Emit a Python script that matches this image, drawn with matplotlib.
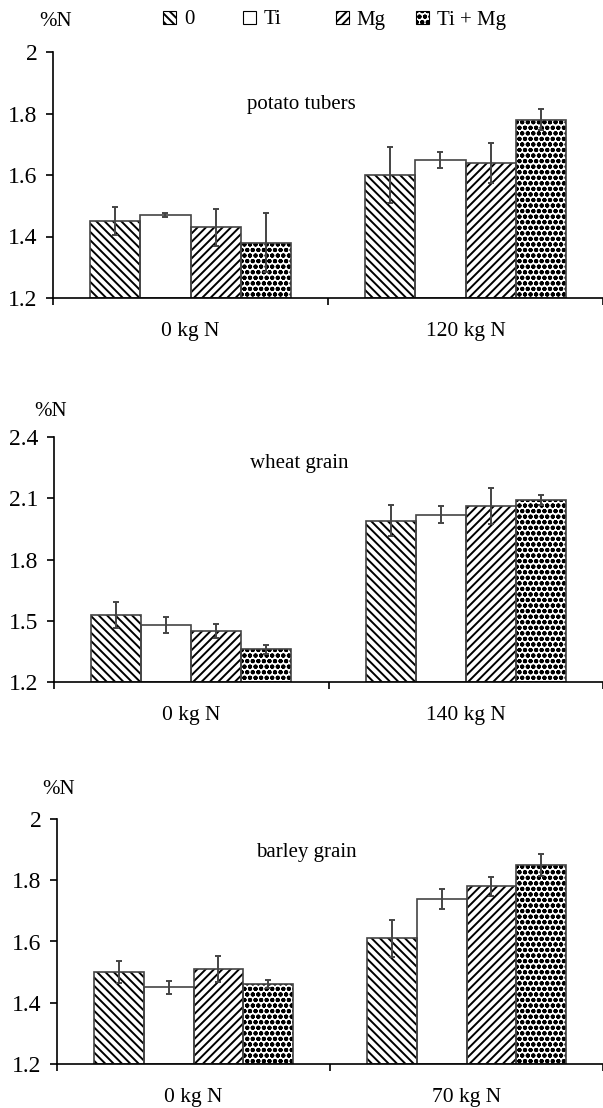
import matplotlib
matplotlib.use("Agg")
import matplotlib.pyplot as plt
import numpy as np
from matplotlib.patches import Patch
from matplotlib.ticker import FuncFormatter

plt.rcParams['font.family'] = ['Liberation Serif', 'DejaVu Serif']
plt.rcParams['hatch.linewidth'] = 1.4

# treatments (legend)
treatments = ['0', 'Ti', 'Mg', 'Ti + Mg']
hatches = ['\\\\\\\\', '', '////', 'ooo']

# potato tubers
potato_groups = ['0 kg N', '120 kg N']
potato_0 = [1.45, 1.60]
potato_ti = [1.47, 1.65]
potato_mg = [1.43, 1.64]
potato_timg = [1.38, 1.78]
potato_err_0 = [0.045, 0.09]
potato_err_ti = [0.007, 0.026]
potato_err_mg = [0.06, 0.065]
potato_err_timg = [0.097, 0.035]

# wheat grain
wheat_groups = ['0 kg N', '140 kg N']
wheat_0 = [1.53, 1.99]
wheat_ti = [1.48, 2.02]
wheat_mg = [1.45, 2.06]
wheat_timg = [1.36, 2.09]
wheat_err_0 = [0.064, 0.075]
wheat_err_ti = [0.04, 0.042]
wheat_err_mg = [0.033, 0.088]
wheat_err_timg = [0.023, 0.024]

# barley grain
barley_groups = ['0 kg N', '70 kg N']
barley_0 = [1.50, 1.61]
barley_ti = [1.45, 1.74]
barley_mg = [1.51, 1.78]
barley_timg = [1.46, 1.85]
barley_err_0 = [0.037, 0.06]
barley_err_ti = [0.022, 0.033]
barley_err_mg = [0.042, 0.032]
barley_err_timg = [0.013, 0.036]

W, H = 603, 1108
fig = plt.figure(figsize=(W / 100, H / 100), dpi=100)


def panel(rect, groups, means, errs, yticks, title, title_xy, ylab_xy):
    ax = fig.add_axes(rect)
    x = np.arange(len(groups))
    w = 0.182
    for i, (m, e, h) in enumerate(zip(means, errs, hatches)):
        pos = x + (i - 1.5) * w
        ax.bar(pos, np.array(m) - yticks[0], w, bottom=yticks[0], color='white',
               edgecolor='black', hatch=h, linewidth=0, zorder=2)
        ax.bar(pos, np.array(m) - yticks[0], w, bottom=yticks[0], fill=False,
               edgecolor='#444444', linewidth=1.2, zorder=2.5)
        ax.errorbar(pos, m, yerr=e, fmt='none', ecolor='#444444', elinewidth=1.4,
                    capsize=2.5, capthick=1.4, zorder=3)
    ax.set_xlim(-0.5, 1.5)
    ax.set_ylim(yticks[0], yticks[-1])
    ax.set_yticks(yticks)
    ax.yaxis.set_major_formatter(FuncFormatter(lambda v, p: '%g' % round(v, 2)))
    ax.set_xticks([-0.5, 0.5, 1.5])
    ax.set_xticklabels([])
    ax.set_xticks(x, minor=True)
    ax.set_xticklabels(groups, minor=True, fontsize=15.5)
    ax.tick_params(axis='x', which='minor', length=0, pad=17)
    ax.tick_params(axis='x', which='major', direction='out', length=5, width=1.2)
    ax.tick_params(axis='y', direction='out', length=5, width=1.2, labelsize=17, pad=6)
    for s in ['top', 'right']:
        ax.spines[s].set_visible(False)
    for s in ['left', 'bottom']:
        ax.spines[s].set_linewidth(1.2)
    ax.text(title_xy[0], title_xy[1], title, transform=ax.transAxes,
            ha='center', va='center', fontsize=15)
    fig.text(ylab_xy[0] / W, 1 - ylab_xy[1] / H, '%N', ha='center', va='center',
             fontsize=15)
    return ax


panel([53 / W, 1 - 298 / H, 1 - 53 / W, 246 / H], potato_groups,
      [potato_0, potato_ti, potato_mg, potato_timg],
      [potato_err_0, potato_err_ti, potato_err_mg, potato_err_timg],
      [1.2, 1.4, 1.6, 1.8, 2.0], 'potato tubers', (0.451, 0.785), (56, 22))

panel([54 / W, 1 - 682 / H, 1 - 54 / W, 245 / H], wheat_groups,
      [wheat_0, wheat_ti, wheat_mg, wheat_timg],
      [wheat_err_0, wheat_err_ti, wheat_err_mg, wheat_err_timg],
      [1.2, 1.5, 1.8, 2.1, 2.4], 'wheat grain', (0.446, 0.89), (51, 412))

panel([57 / W, 1 - 1064 / H, 1 - 57 / W, 245 / H], barley_groups,
      [barley_0, barley_ti, barley_mg, barley_timg],
      [barley_err_0, barley_err_ti, barley_err_mg, barley_err_timg],
      [1.2, 1.4, 1.6, 1.8, 2.0], 'barley grain', (0.456, 0.865), (59, 790))

# legend entries placed along the top
legend_x = [163, 243, 336, 416]
for lab, h, lx in zip(treatments, hatches, legend_x):
    handle = Patch(facecolor='white', edgecolor='black', hatch=h, linewidth=0.8)
    fig.legend([handle], [lab], loc='center left', bbox_to_anchor=(lx / W, 1 - 20 / H),
               frameon=False, fontsize=15, handlelength=0.6, handleheight=0.6,
               handletextpad=0.4, borderpad=0, borderaxespad=0)

fig.savefig('out.png', dpi=100)
